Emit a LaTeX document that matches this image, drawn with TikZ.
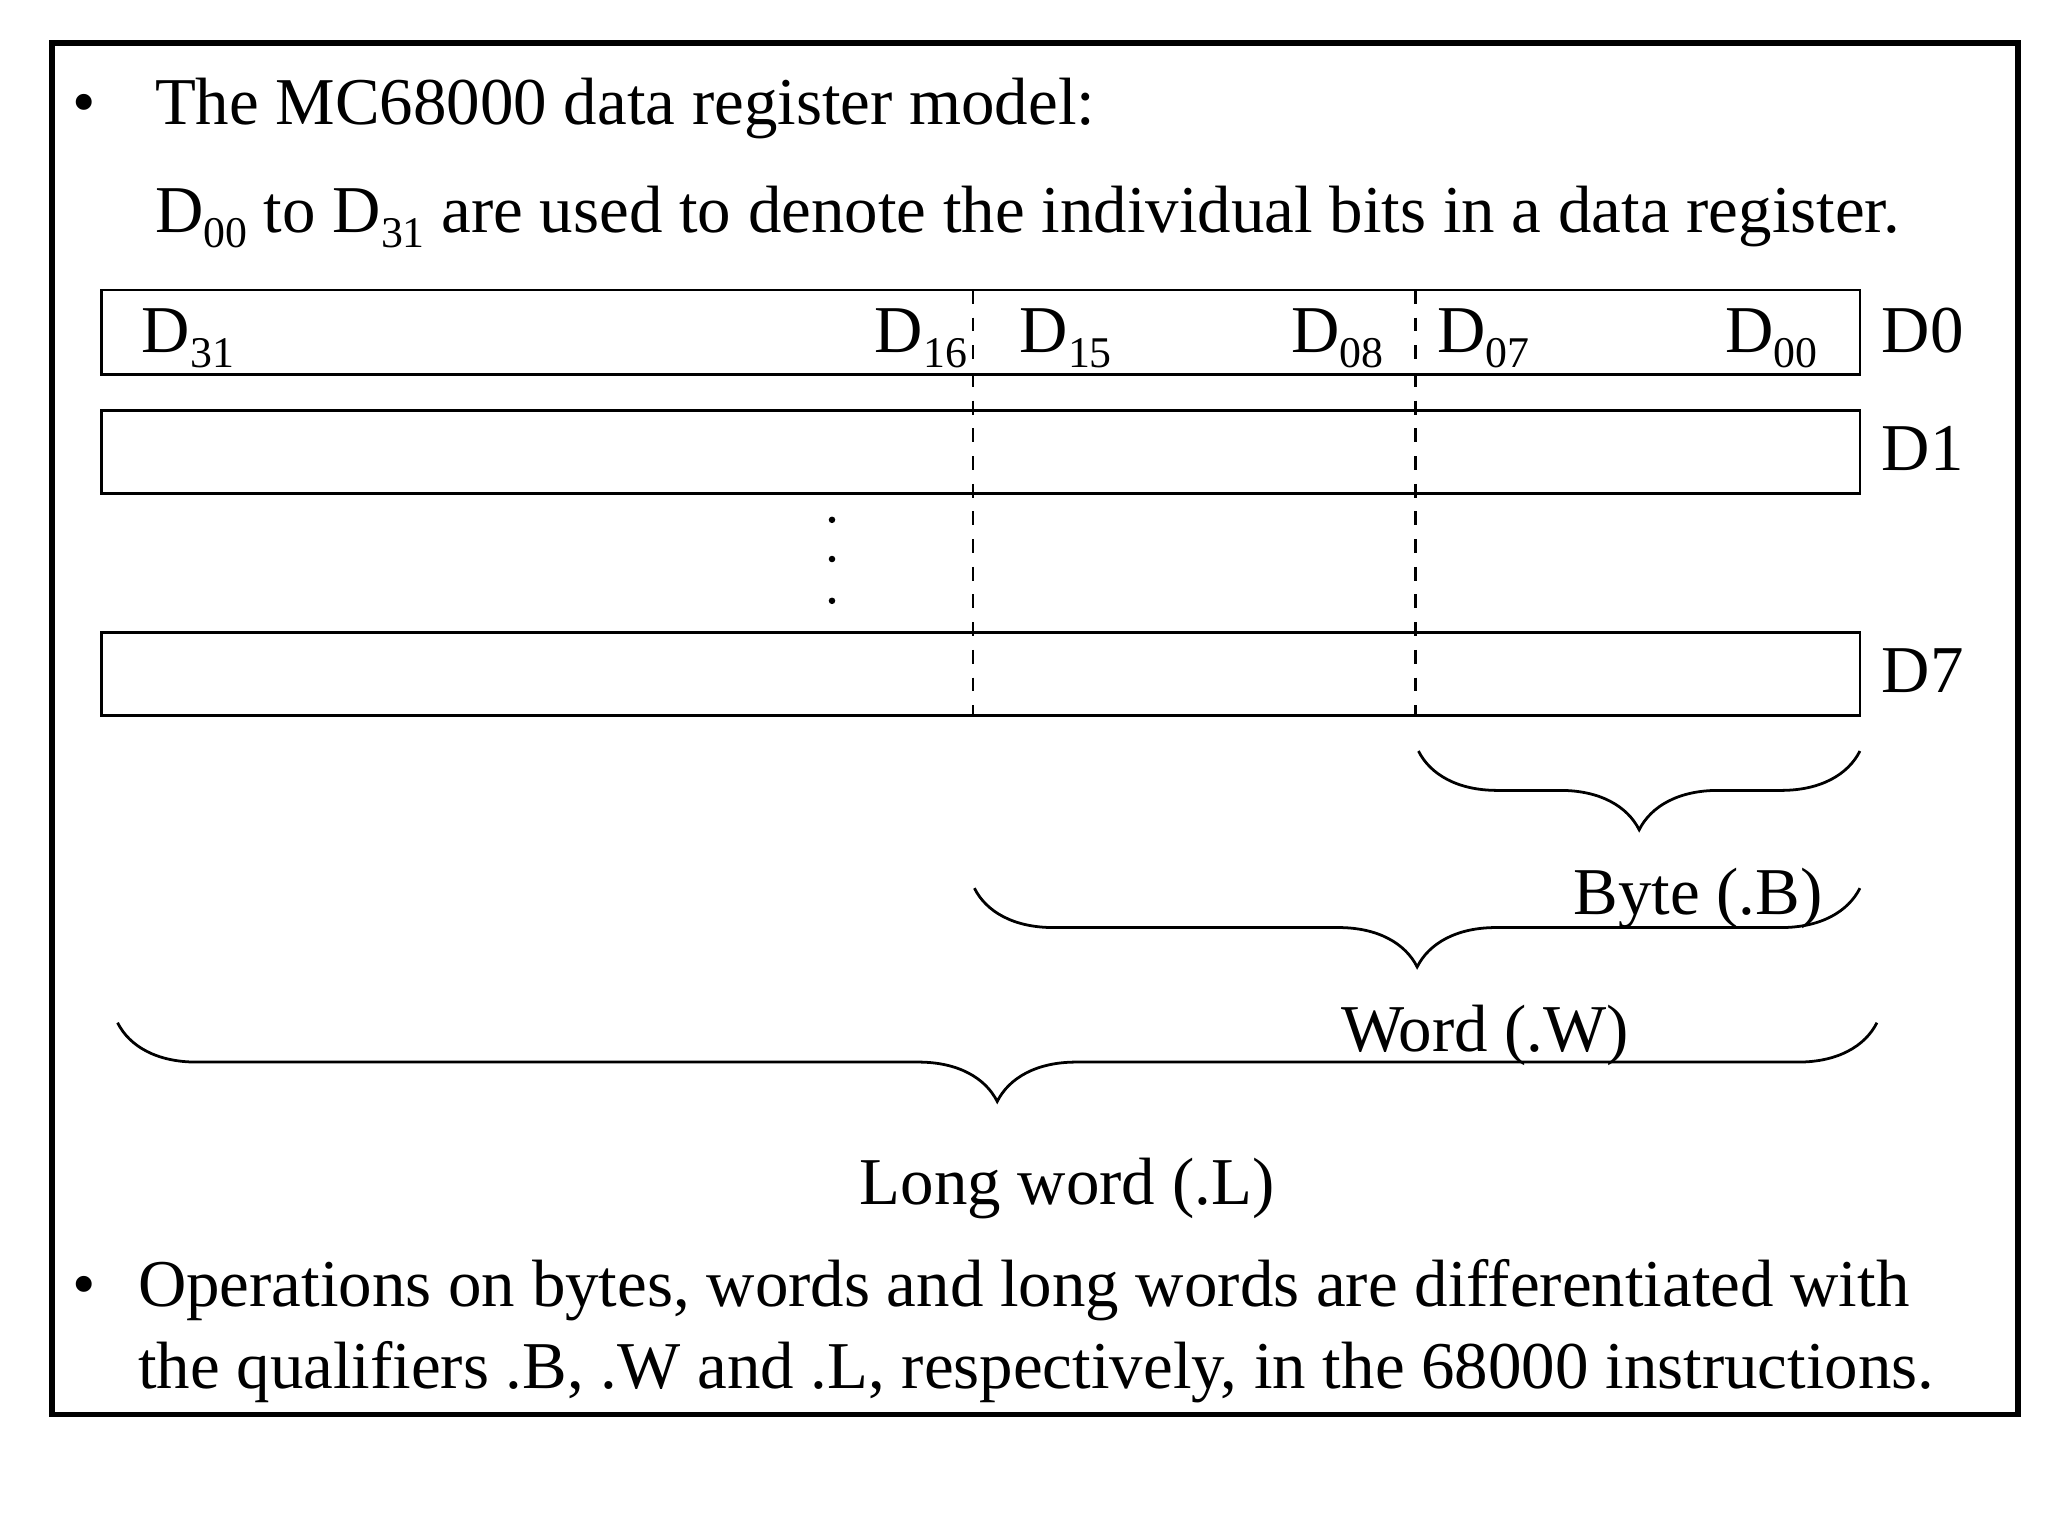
\documentclass[tikz,border=0pt]{standalone}
\usepackage{fontspec}
\setmainfont{Liberation Serif}
\usetikzlibrary{decorations.pathreplacing}
\newcommand{\bitsub}[1]{\raisebox{-0.5ex}{\fontsize{9.5}{10}\selectfont #1}}
\begin{document}
\begin{tikzpicture}[x=0.00995cm,y=-0.00995cm,
  txt/.style={inner sep=0pt,font=\fontsize{14.5}{17}\selectfont},
  reg/.style={draw,line width=0.6pt},
  brc/.style={decorate,decoration={brace,mirror,amplitude=0.6cm,raise=0pt},line width=0.6pt}]
\useasboundingbox (0,0) rectangle (1568,1176);
\draw[line width=1.2pt] (40,33) rectangle (1545,1083);
\node[txt,anchor=base west] (b1) at (55,95) {•};
\node[txt,anchor=base west] (t1) at (118,95) {The MC68000 data register model:};
\node[txt,anchor=base west] (t2) at (118,178) {D\bitsub{00} to D\bitsub{31} are used to denote the individual bits in a data register.};
\draw[reg] (78,222) rectangle (1424,287);
\draw[reg] (78,314) rectangle (1424,378);
\draw[reg] (78,484) rectangle (1424,548);
\draw[dashed,line width=0.6pt] (745,222) -- (745,548);
\draw[dashed,line width=0.6pt] (1084,222) -- (1084,548);
\node[txt,anchor=base west] (d31) at (108,270) {D\bitsub{31}};
\node[txt,anchor=base east] (d16) at (741,270) {D\bitsub{16}};
\node[txt,anchor=base west] (d15) at (780,270) {D\bitsub{15}};
\node[txt,anchor=base east] (d08) at (1060,270) {D\bitsub{08}};
\node[txt,anchor=base west] (d07) at (1100,270) {D\bitsub{07}};
\node[txt,anchor=base east] (d00) at (1392,270) {D\bitsub{00}};
\node[txt,anchor=base west] (r0) at (1440,270) {D0};
\node[txt,anchor=base west] (r1) at (1440,360) {D1};
\node[txt,anchor=base west] (r7) at (1440,530) {D7};
\foreach \y in {398,428,460} \fill (637,\y) circle (2.5);
\draw[brc] (1086,575) -- (1424,575);
\node[txt,anchor=base] (byte) at (1300,700) {Byte (.B)};
\draw[brc] (746,680) -- (1424,680);
\node[txt,anchor=base] (word) at (1137,805) {Word (.W)};
\draw[brc] (90,783) -- (1437,783);
\node[txt,anchor=base] (long) at (817,922) {Long word (.L)};
\node[txt,anchor=base west] (b2) at (55,1000) {•};
\node[txt,anchor=base west] (t3) at (105,1000) {Operations on bytes, words and long words are differentiated with};
\node[txt,anchor=base west] (t4) at (105,1063) {the qualifiers .B, .W and .L, respectively, in the 68000 instructions.};
\end{tikzpicture}
\end{document}
